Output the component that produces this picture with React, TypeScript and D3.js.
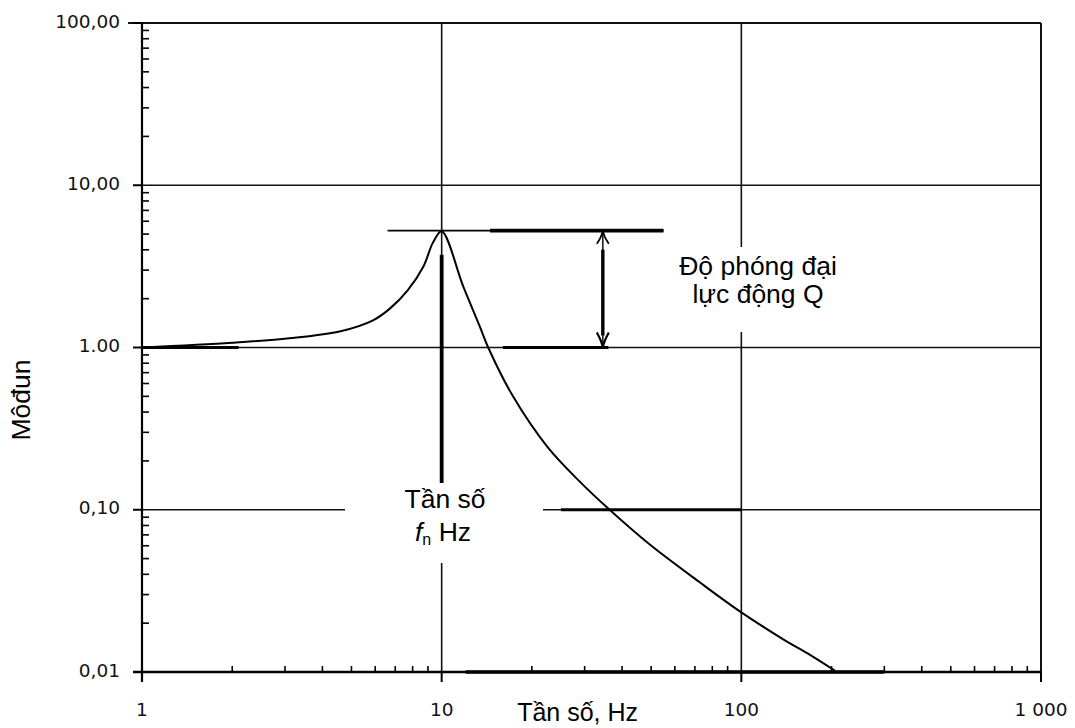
import React from 'react';
import * as d3 from 'd3';

// curve (frequency in Hz, modulus)
const freq = [1, 2, 3.1, 4.6, 5.9, 6.7, 7.7, 8.7, 9.35, 10, 11.8, 13.4, 14.3, 17.3, 22.5, 28.9, 35.9, 49.5, 72.8, 100, 138, 170, 205];
const modulus = [1.0, 1.07, 1.14, 1.26, 1.47, 1.73, 2.25, 3.17, 4.43, 5.21, 2.38, 1.35, 1.0, 0.5, 0.245, 0.149, 0.102, 0.061, 0.0356, 0.0233, 0.0159, 0.0127, 0.0102];

const yTicks = [100, 10, 1, 0.1, 0.01];
const yTickLabels = ['100,00', '10,00', '1.00', '0,10', '0,01'];
const xTicks = [1, 10, 100, 1000];
const xTickLabels = ['1', '10', '100', '1 000'];
const xGrid = [10, 100];
const yGrid = [10, 1, 0.1];

// annotation values
const peakValue = 5.25;
const peakLineFrom = 6.6;
const peakLineTo = 55;
const qArrowFreq = 34.5;
const fnFreq = 10;

const W = 1075;
const H = 728;
const left = 142;
const right = 1041;
const top = 23;
const bottom = 672;

const App = () => {
  const x = d3.scaleLog().domain([1, 1000]).range([left, right]);
  const y = d3.scaleLog().domain([0.01, 100]).range([bottom, top]);

  const pts: [number, number][] = freq.map((f, i) => [x(f), y(modulus[i])]);
  const path = d3.line().curve(d3.curveCatmullRom.alpha(0.5))(pts) || '';

  // log minor ticks
  const xMinor: number[] = [];
  for (let d = 1; d < 1000; d *= 10) for (let k = 2; k <= 9; k++) xMinor.push(d * k);
  const yMinor: number[] = [];
  for (let d = 0.01; d < 99; d *= 10) for (let k = 2; k <= 9; k++) yMinor.push(d * k);

  const py = y(peakValue);
  const oneY = y(1);
  const ax = x(qArrowFreq);
  const fx = x(fnFreq);
  const font = '"Liberation Sans", Arial, sans-serif';
  const tickFont = '"DejaVu Sans", sans-serif';
  const big = 26.5;

  return (
    <svg width={W} height={H} style={{ position: 'absolute', left: 0, top: 0, background: '#fff' }}>
      {/* grid */}
      {xGrid.map(v => (
        <line key={'gx' + v} x1={x(v)} x2={x(v)} y1={top} y2={bottom} stroke="#111" strokeWidth={1.6} />
      ))}
      {yGrid.map(v => (
        <line key={'gy' + v} x1={left} x2={right} y1={y(v)} y2={y(v)} stroke="#111" strokeWidth={1.6} />
      ))}
      <line x1={x(1)} x2={x(2.1)} y1={oneY} y2={oneY} stroke="#000" strokeWidth={3.2} />
      <line x1={x(16)} x2={x(36)} y1={oneY} y2={oneY} stroke="#000" strokeWidth={3} />
      <line x1={x(25)} x2={x(100)} y1={y(0.1)} y2={y(0.1)} stroke="#000" strokeWidth={2.8} />

      {/* frame */}
      <line x1={left - 14} x2={right} y1={top} y2={top} stroke="#111" strokeWidth={2} />
      <line x1={right} x2={right} y1={top} y2={bottom + 10} stroke="#111" strokeWidth={2} />
      <line x1={left} x2={left} y1={top} y2={bottom + 10} stroke="#000" strokeWidth={2.2} />
      <line x1={left - 9} x2={right} y1={bottom} y2={bottom} stroke="#000" strokeWidth={2.6} />
      <line x1={x(12)} x2={x(300)} y1={bottom} y2={bottom} stroke="#000" strokeWidth={3.4} />

      {/* minor ticks */}
      {xMinor.map(v => (
        <line key={'mx' + v} x1={x(v)} x2={x(v)} y1={bottom} y2={bottom - 6} stroke="#000" strokeWidth={1.6} />
      ))}
      {yMinor.map(v => (
        <line key={'my' + v} x1={left} x2={left + 7} y1={y(v)} y2={y(v)} stroke="#000" strokeWidth={1.6} />
      ))}
      {/* major ticks */}
      {yTicks.map(v => (
        <line key={'ty' + v} x1={left - 9} x2={left} y1={y(v)} y2={y(v)} stroke="#000" strokeWidth={2} />
      ))}
      {xTicks.map(v => (
        <line key={'tx' + v} x1={x(v)} x2={x(v)} y1={bottom} y2={bottom + 10} stroke="#000" strokeWidth={2} />
      ))}

      {/* tick labels */}
      {yTicks.map((v, i) => (
        <text key={'ly' + v} x={120} y={y(v) - 2} dy="0.36em" textAnchor="end" fontFamily={tickFont} fontSize={18.5} fill="#111">
          {yTickLabels[i]}
        </text>
      ))}
      {xTicks.map((v, i) => (
        <text key={'lx' + v} x={x(v)} y={716} textAnchor="middle" fontFamily={tickFont} fontSize={18.5} fill="#111">
          {xTickLabels[i]}
        </text>
      ))}

      {/* white label boxes */}
      <rect x={668} y={247} width={184} height={85} fill="#fff" />
      <rect x={345} y={483} width={198} height={80} fill="#fff" />

      {/* peak line */}
      <line x1={x(peakLineFrom)} x2={x(peakLineTo)} y1={py} y2={py} stroke="#000" strokeWidth={1.6} />
      <line x1={x(14.5)} x2={x(peakLineTo)} y1={py} y2={py} stroke="#000" strokeWidth={3.6} />

      {/* Q arrow */}
      <line x1={ax} x2={ax} y1={py} y2={oneY} stroke="#000" strokeWidth={1.4} />
      <line x1={ax} x2={ax} y1={py + 19} y2={oneY - 12} stroke="#000" strokeWidth={3.4} />
      <path d={`M${ax - 6},${py + 13} Q${ax - 1},${py + 6} ${ax},${py} Q${ax + 1},${py + 6} ${ax + 6},${py + 13}`} fill="none" stroke="#000" strokeWidth={1.8} />
      <path d={`M${ax - 6},${oneY - 15} Q${ax - 1},${oneY - 6} ${ax},${oneY} Q${ax + 1},${oneY - 6} ${ax + 6},${oneY - 15}`} fill="none" stroke="#000" strokeWidth={2.2} />

      {/* fn marker */}
      <line x1={fx} x2={fx} y1={py + 24} y2={483} stroke="#000" strokeWidth={3.8} />

      {/* curve */}
      <path d={path} fill="none" stroke="#000" strokeWidth={2} />

      {/* annotations */}
      <text x={758} y={275} textAnchor="middle" fontFamily={font} fontSize={big} fill="#000">Độ phóng đại</text>
      <text x={758} y={303} textAnchor="middle" fontFamily={font} fontSize={big} fill="#000">lực động Q</text>
      <text x={445} y={508} textAnchor="middle" fontFamily={font} fontSize={big} fill="#000">Tần số</text>
      <text x={443} y={541} textAnchor="middle" fontFamily={font} fontSize={big} fill="#000">
        <tspan fontStyle="italic">f</tspan>
        <tspan fontSize={16} dy={4}>n</tspan>
        <tspan dy={-4}> Hz</tspan>
      </text>

      {/* axis titles */}
      <text x={638} y={721} textAnchor="end" fontFamily={font} fontSize={25} fill="#000">Tần số, Hz</text>
      <text transform="translate(30,400) rotate(-90)" textAnchor="middle" fontFamily={font} fontSize={big} fill="#000">Môđun</text>
    </svg>
  );
};

export default App;
